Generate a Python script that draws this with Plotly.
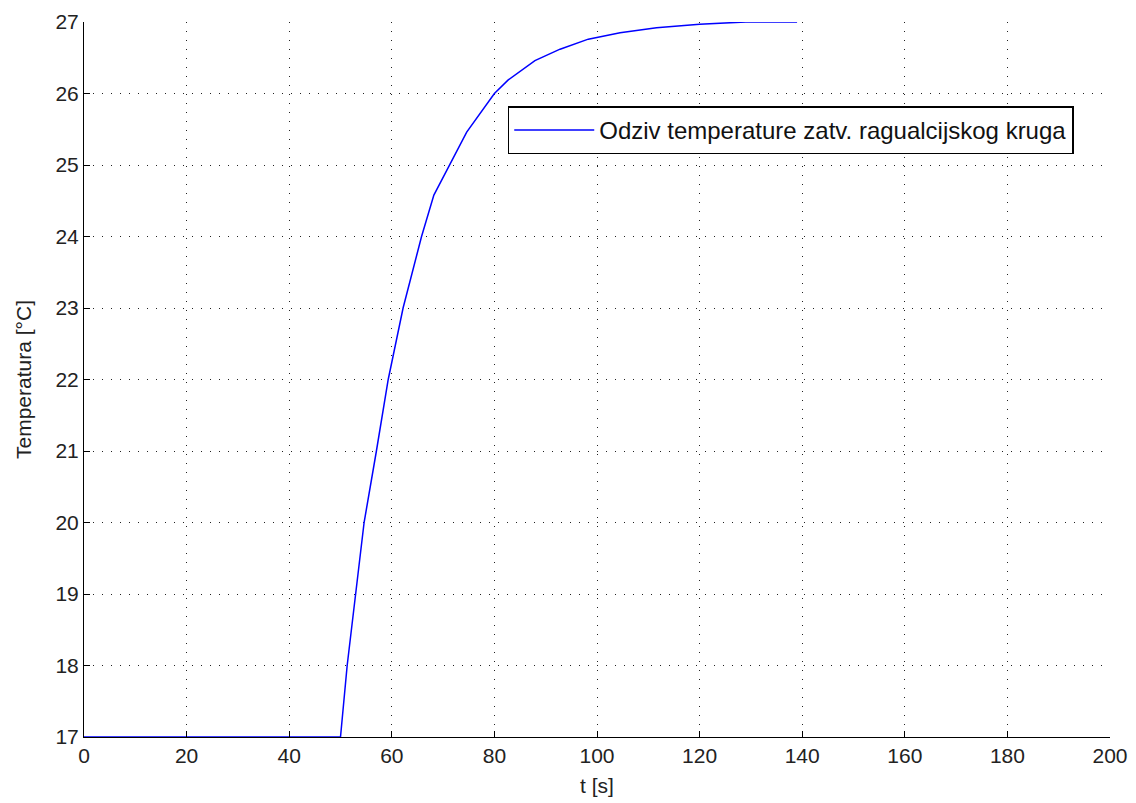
import plotly.graph_objects as go

# Closed-loop temperature step response
t_s = [0, 50, 51.3, 53.0, 54.6, 57.0, 59.3, 62.2, 65.8, 68.2, 71.3, 74.6, 80.0,
       82.7, 87.9, 92.8, 98.3, 104.5, 111.6, 120.0, 129.0, 139.0]
temp_c = [17, 17, 18, 19, 20, 21, 22, 23, 24, 24.58, 25, 25.46, 26,
          26.19, 26.46, 26.62, 26.76, 26.85, 26.92, 26.97, 27.0, 27.0]

x_ticks = list(range(0, 201, 20))
y_ticks = list(range(17, 28))

font = "Liberation Sans, Arial, sans-serif"

fig = go.Figure()
fig.add_trace(go.Scatter(
    x=t_s, y=temp_c, mode="lines",
    line=dict(color="#0000ff", width=1.5),
    name="Odziv temperature zatv. ragualcijskog kruga",
))

axis_common = dict(
    showline=True, linecolor="black", linewidth=1,
    ticks="inside", ticklen=6, tickcolor="black",
    showgrid=True, gridcolor="#222222", griddash="1px,8px", gridwidth=1.2,
    zeroline=False, mirror=False, automargin=False,
    tickfont=dict(family=font, size=21, color="#222222"),
)

fig.update_layout(
    width=1136, height=803,
    margin=dict(l=84, r=26, t=22, b=66),
    paper_bgcolor="white", plot_bgcolor="white",
    font=dict(family=font, color="#222222"),
    showlegend=True,
    legend=dict(
        x=0.413, y=0.882, xanchor="left", yanchor="top",
        bordercolor="black", borderwidth=1.5, bgcolor="white",
        font=dict(family=font, size=24, color="#111111"),
        itemwidth=80,
    ),
    xaxis=dict(axis_common, range=[0, 200], tickvals=x_ticks,
               title=dict(text="t [s]", font=dict(family=font, size=21), standoff=12)),
    yaxis=dict(axis_common, range=[17, 27], tickvals=y_ticks,
               title=dict(text="Temperatura [°C]", font=dict(family=font, size=21), standoff=18)),
)

fig.write_html("out.html")
